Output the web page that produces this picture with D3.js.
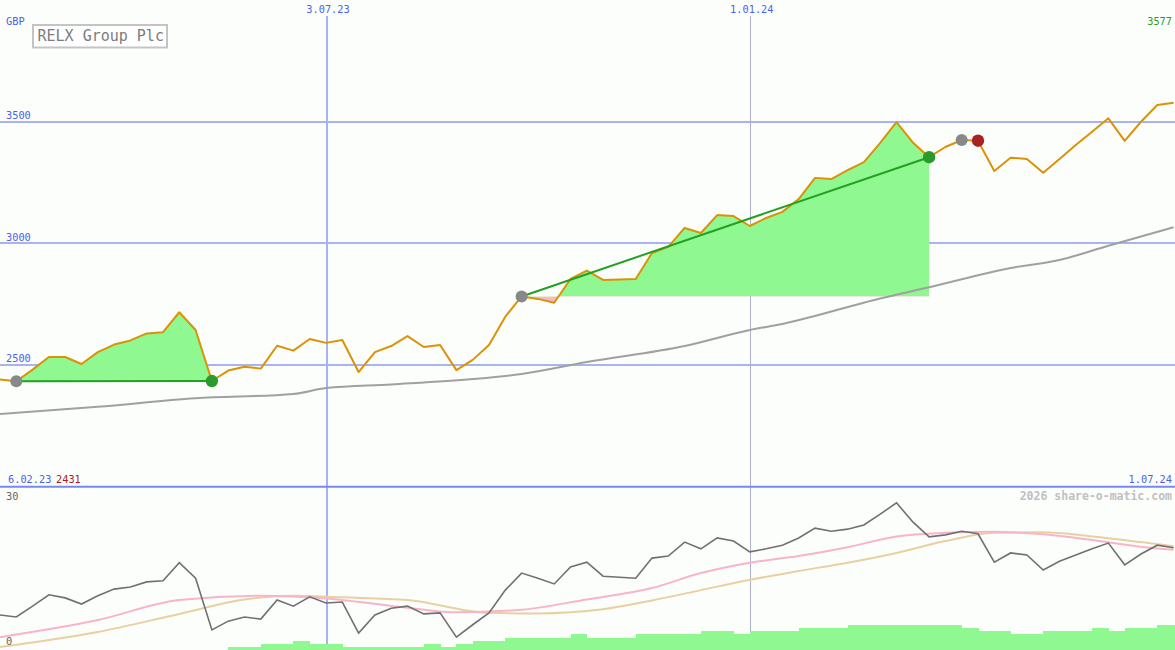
<!DOCTYPE html>
<html><head><meta charset="utf-8">
<script src="https://cdn.jsdelivr.net/npm/d3@7"></script>
<style>
html,body{margin:0;padding:0;background:#fcfefc;}
svg{display:block;}
text{font-family:"DejaVu Sans Mono",monospace;}
</style></head><body>
<svg id="c" width="1175" height="650"></svg>
<script>
// ---------- data ----------
const title = "RELX Group Plc";
const currency = "GBP";
const startDate = "2023-02-13";   // first weekly point
const endDate = "2024-07-01";     // last weekly point
const startLabel = "6.02.23";
const lowLabel = "2431";
const endLabel = "1.07.24";
const lastLabel = "3577";
const credit = "2026 share-o-matic.com";

// weekly closing prices (GBp)
const price = [2438,2431,2479,2531,2531,2502,2551,2582,2599,2628,2633,2715,2642,2432,2475,2491,2483,2577,2557,2605,
  2589,2601,2469,2551,2576,2617,2572,2580,2477,2519,2580,2697,2780,2770,2754,2852,2886,2848,2850,2852,
  2959,2984,3062,3041,3115,3111,3070,3103,3128,3181,3268,3263,3300,3333,3412,3497,3414,3353,3395,3424,
  3421,3296,3351,3346,3289,3346,3403,3458,3513,3420,3499,3568,3577];

// long moving average (week index, value)
const maIdx = [0,6,12,18,20,24,29,32,36,42,46,48,54,57,62,65,68,72];
const maVal = [2296,2326,2361,2379,2403,2418,2440,2461,2510,2576,2642,2667,2772,2818,2897,2930,2989,3065];

// lower panel oscillator (0..30)
const osc = [6.4,6.0,8.1,10.3,9.7,8.5,10.1,11.4,11.8,12.8,13.0,16.5,13.5,3.5,5.2,6.0,5.6,9.3,8.1,9.9,
  8.7,8.9,2.9,6.4,7.7,8.1,6.6,6.8,2.1,4.5,6.8,11.2,14.5,13.5,12.4,15.7,16.6,13.9,13.7,13.5,
  17.4,17.8,20.5,19.2,21.3,20.7,18.6,19.2,19.9,21.3,23.2,22.6,23.0,23.8,25.9,28.1,24.4,21.5,21.9,22.6,
  22.1,16.6,18.4,18.0,15.1,16.8,18.0,19.2,20.3,16.1,18.2,19.9,19.4];

// smoothed signal lines (week index, value)
const pinkIdx = [0,6,11,16,20,25,28,32,36,40,43,46,49,52,55,58,61,64,67,70,72];
const pinkVal = [2.1,5.4,9.3,10.1,9.6,7.8,6.9,7.4,9.4,11.6,14.5,16.5,17.8,19.5,21.6,22.3,22.5,22.0,20.9,19.6,19.0];
const tanIdx = [0,6,11,15,18,21,25,30,33,37,40,43,46,49,52,55,58,61,64,67,70,72];
const tanVal = [0.2,3.1,6.6,9.4,10.1,9.8,9.3,6.8,6.7,7.5,9.2,11.2,13.2,14.9,16.5,18.4,20.7,22.3,22.4,21.6,20.5,19.7];

// weekly volume (relative units)
const volume = [0,0,0,0,0,0,0,0,0,0,0,0,0,0,1,1,2,2,3,2,
  2,1,1,1,1,1,2,1,2,3,3,4,4,4,4,5,4,4,4,5,
  5,5,5,6,6,5,6,6,6,7,7,7,8,8,8,8,8,8,8,7,
  6,6,5,5,6,6,6,7,6,7,7,8,8];

// trades: [buy index, sell index]
const trades = [[1,13],[32,57],[59,60]];

const priceTicks = [2500,3000,3500];
const dateTicks = ["2023-07-03","2024-01-01"];
const dateTickLabels = ["3.07.23","1.01.24"];

// ---------- chart ----------
const W = 1175, H = 650, splitY = 486.7;
const svg = d3.select("#c");
const parse = d3.utcParse("%Y-%m-%d");
const t0 = parse(startDate);
const dates = price.map((_, i) => d3.utcDay.offset(t0, 7 * i));

const x = d3.scaleUtc().domain([t0, parse(endDate)]).range([0, 1173.6]);
const y = d3.scaleLinear().domain([2000, 4000]).range([486, 0]);
const yL = d3.scaleLinear().domain([0, 30]).range([648, 493]);
const yV = d3.scaleLinear().domain([0, 8]).range([650, 625]);

svg.append("rect").attr("width", W).attr("height", H).attr("fill", "#fcfefc");

// horizontal grid
svg.append("g").selectAll("line").data(priceTicks).join("line")
  .attr("x1", 0).attr("x2", W)
  .attr("y1", d => y(d)).attr("y2", d => y(d))
  .attr("stroke", "#a8b4f0").attr("stroke-width", 2).attr("shape-rendering", "crispEdges");

// vertical date lines
svg.append("g").selectAll("line").data(dateTicks).join("line")
  .attr("x1", d => Math.round(x(parse(d))) + 0.5).attr("x2", d => Math.round(x(parse(d))) + 0.5)
  .attr("y1", 16).attr("y2", H)
  .attr("stroke", (d, i) => i === 0 ? "#a4b2f6" : "#acb0cc")
  .attr("stroke-width", (d, i) => i === 0 ? 2 : 1)
  .attr("shape-rendering", "crispEdges");

// trade fills
const defs = svg.append("defs");
const fillG = svg.append("g");
trades.forEach(([b, s], k) => {
  const base = y(price[b]);
  defs.append("clipPath").attr("id", "up" + k).append("rect")
    .attr("x", 0).attr("y", 0).attr("width", W).attr("height", base);
  defs.append("clipPath").attr("id", "dn" + k).append("rect")
    .attr("x", 0).attr("y", base).attr("width", W).attr("height", splitY - base);
  const idx = d3.range(b, s + 1);
  const area = d3.area().x(i => x(dates[i])).y0(base).y1(i => y(price[i]));
  fillG.append("path").attr("d", area(idx)).attr("fill", "#90f890").attr("clip-path", `url(#up${k})`);
  fillG.append("path").attr("d", area(idx)).attr("fill", "#f8b6c8").attr("clip-path", `url(#dn${k})`);
});

// moving average
const maPts = maIdx.map((d, i) => [d, maVal[i]]);
svg.append("path")
  .attr("d", d3.line().x(d => x(dates[d[0]])).y(d => y(d[1])).curve(d3.curveMonotoneX)(maPts))
  .attr("fill", "none").attr("stroke", "#a0a0a0").attr("stroke-width", 2);

// price line
svg.append("path")
  .attr("d", d3.line().x((d, i) => x(dates[i])).y(d => y(d))(price))
  .attr("fill", "none").attr("stroke", "#dc9206").attr("stroke-width", 2).attr("stroke-linejoin", "round");

// trade lines
trades.forEach(([b, s]) => {
  if (price[s] >= price[b]) {
    svg.append("line")
      .attr("x1", x(dates[b])).attr("y1", y(price[b]))
      .attr("x2", x(dates[s])).attr("y2", y(price[s]))
      .attr("stroke", "#22a022").attr("stroke-width", 2);
  }
});
// markers
trades.forEach(([b, s]) => {
  svg.append("circle").attr("cx", x(dates[b])).attr("cy", y(price[b])).attr("r", 6).attr("fill", "#888888");
  svg.append("circle").attr("cx", x(dates[s])).attr("cy", y(price[s])).attr("r", 6.2)
    .attr("fill", price[s] >= price[b] ? "#2a9a2a" : "#a82222");
});

// separator
svg.append("line").attr("x1", 0).attr("x2", W).attr("y1", splitY).attr("y2", splitY)
  .attr("stroke", "#7888f0").attr("stroke-width", 2);

// lower panel: volume
svg.append("g").selectAll("rect").data(volume).join("rect")
  .attr("x", (d, i) => x(dates[i]))
  .attr("width", (d, i) => x(d3.utcDay.offset(dates[i], 7)) - x(dates[i]) + 0.5)
  .attr("y", d => yV(d)).attr("height", d => 650 - yV(d))
  .attr("fill", "#90f890").attr("shape-rendering", "crispEdges");

const sl = d3.line().x(d => x(dates[d[0]])).y(d => yL(d[1])).curve(d3.curveMonotoneX);
svg.append("path").attr("d", sl(tanIdx.map((d, i) => [d, tanVal[i]])))
  .attr("fill", "none").attr("stroke", "#e8d0a0").attr("stroke-width", 2);
svg.append("path").attr("d", sl(pinkIdx.map((d, i) => [d, pinkVal[i]])))
  .attr("fill", "none").attr("stroke", "#f8b4c8").attr("stroke-width", 2);
svg.append("path")
  .attr("d", d3.line().x((d, i) => x(dates[i])).y(d => yL(d))(osc))
  .attr("fill", "none").attr("stroke", "#707070").attr("stroke-width", 1.6);

// ---------- texts ----------
const blue = "#4f60ee";
function txt(s, xx, yy, opts = {}) {
  return svg.append("text").text(s).attr("x", xx).attr("y", yy)
    .attr("font-size", opts.size || 10.3).attr("fill", opts.color || blue)
    .attr("text-anchor", opts.anchor || "start")
    .attr("font-weight", opts.weight || "normal");
}
txt(currency, 6, 24.5);
priceTicks.forEach(p => txt(String(p), 6, y(p) - 2.5));
dateTicks.forEach((d, i) => txt(dateTickLabels[i], x(parse(d)) + 2, 12.5, {anchor: "middle"}));
txt(lastLabel, 1172, 25, {color: "#2a9a2a", anchor: "end"});
txt(startLabel, 8, 482.5);
txt(lowLabel, 56, 482.5, {color: "#a81c1c"});
txt(endLabel, 1172, 482.5, {anchor: "end"});
txt(credit, 1172, 499.5, {color: "#c0c0c0", anchor: "end", size: 11.5, weight: "bold"});
txt("30", 6, 499.5, {color: "#666666"});
txt("0", 6, 645, {color: "#666666"});

// title box
svg.append("rect").attr("x", 33).attr("y", 25).attr("width", 134).attr("height", 22.5)
  .attr("fill", "#ffffff").attr("stroke", "#c4c4c4").attr("stroke-width", 2);
txt(title, 37.5, 41, {color: "#7c7c7c", size: 15});
</script>
</body></html>
